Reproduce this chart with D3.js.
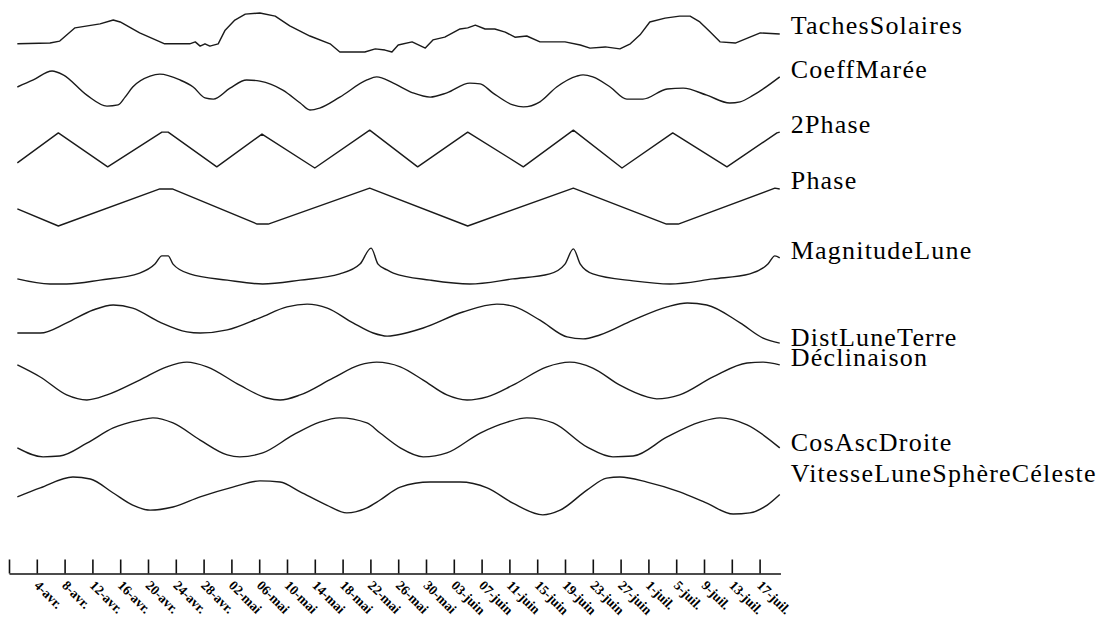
<!DOCTYPE html>
<html>
<head>
<meta charset="utf-8">
<script src="https://cdn.jsdelivr.net/npm/d3@7"></script>
<style>
  body { margin: 0; background: #fff; }
</style>
</head>
<body>
<div id="hook-chart"></div>
<script>
'use strict';

// series values are read off the picture, 0..100 within each band
// first number of each pair = days after 31 mars
var seriesNames = ['TachesSolaires', 'CoeffMarée', '2Phase', 'Phase', 'MagnitudeLune',
  'DistLuneTerre', 'Déclinaison', 'CosAscDroite', 'VitesseLuneSphèreCéleste'];

var tachesSolaires = [[1.2,21],[5.9,23],[7.3,28],[9.5,62],[13.1,72],[15,82],[16,77],[18.8,49],
  [22.4,21],[26,21],[26.8,26],[27.5,15],[28.2,21],[28.9,15],[30.1,21],[31.1,56],[32.5,82],
  [34,97],[36.1,100],[38.3,92],[40.4,67],[43.3,41],[46.2,21],[47.6,0],[51.2,0],[52.7,8],
  [54.1,5],[55.1,0],[56,18],[58,26],[59.9,10],[61,31],[62.7,38],[64.9,59],[66,62],[67.1,69],
  [68.5,59],[69.9,59],[71.4,51],[72.8,38],[74.5,41],[76.4,26],[80,26],[82.2,18],[83.6,10],
  [85.8,13],[87.9,8],[89.4,21],[90.8,44],[92.2,77],[94.4,87],[96.5,92],[98,92],[99.4,77],
  [100.9,51],[102.3,26],[104.5,23],[106.6,38],[108.1,49],[110.9,46]];

var coeffMaree = [[1.2,59],[3.5,77],[6.2,100],[7.8,90],[11.2,38],[14.1,10],[15.7,13],[16.7,33],
  [17.8,59],[20.3,87],[21.7,92],[24.6,77],[26.5,59],[28.2,31],[29.4,28],[31.8,56],[34.2,77],
  [36.1,74],[39.4,51],[41.9,18],[43.3,0],[44.7,5],[47.6,33],[51.5,77],[52.9,85],[55.3,69],
  [58.1,44],[60.6,33],[63,44],[66.3,69],[67.8,67],[69.6,44],[72.5,13],[74,8],[76.4,21],
  [78.8,59],[81.7,87],[82.6,90],[84,85],[86.5,59],[88.9,28],[91.2,28],[94.7,54],[97,56],
  [100.4,38],[103.7,18],[105.2,21],[107.1,38],[110.9,85]];

var deuxPhase = [[1.2,13],[7.1,90],[14.2,3],[22,92],[22.9,92],[29.9,3],[36.4,87],[44,0],
  [51.9,97],[58.8,3],[66,92],[74,3],[81.2,97],[88.2,0],[95.5,90],[103.3,3],[110.5,90],[110.9,92]];

var phase = [[1.2,44],[7.1,0],[21.7,95],[23.5,95],[35.7,5],[37.3,5],[51.9,97],[66,0],
  [81.2,97],[94.6,5],[96.3,5],[110.2,97],[110.9,95]];

var magnitudeLune = [[1.2,13],[5.9,0],[8.3,0],[13.1,10],[18.8,28],[21,51],[22,72],[22.9,72],
  [23.6,51],[26,26],[31.4,10],[36.5,0],[41.9,10],[47.6,26],[50.5,51],[52.1,92],[53.1,51],
  [54.4,36],[55.3,28],[60.6,10],[66.3,0],[72.5,13],[77.8,26],[80,51],[81.2,90],[82.2,51],
  [84,26],[89.8,8],[95.1,0],[101.3,13],[106.6,26],[109.2,51],[110.2,72],[110.9,67]];

var distLuneTerre = [[1.2,23],[4.5,23],[8.3,49],[12.1,82],[15,95],[17.8,87],[21.7,51],[25.6,26],
  [27.5,23],[31.4,31],[36.1,62],[40,90],[42.9,97],[45.8,87],[49.5,49],[52.4,23],[54.4,15],
  [55.8,18],[59.6,36],[65.3,77],[70.2,97],[72.5,92],[76.4,56],[80.3,13],[82.6,8],[85,18],
  [89.8,56],[94.7,90],[97.6,100],[100.4,95],[105.2,49],[108.5,10],[110.9,-3]];

var declinaison = [[1.2,90],[4.5,59],[8.3,13],[11.2,0],[14.1,13],[18.8,51],[22.7,85],[25.6,97],
  [28.5,85],[33.2,38],[37.1,5],[39,0],[41.9,13],[46.6,56],[50.5,90],[52.9,97],[56.3,85],
  [59.6,51],[63,13],[65.9,0],[68.8,8],[72.5,38],[77.4,85],[80.7,97],[84,82],[87.9,38],
  [91.8,8],[93.2,3],[96.5,13],[101.3,59],[106.2,95],[108.5,97],[110.9,90]];

var cosAscDroite = [[1.2,26],[4.9,3],[7.3,5],[11.2,38],[15,77],[18.8,97],[20.7,103],[23.6,90],
  [27.5,46],[31.4,8],[33.2,3],[36.5,13],[40.9,59],[44.7,92],[47.6,103],[51.5,90],[53.4,64],
  [56.3,26],[59.6,3],[63,13],[67.8,64],[71.7,92],[74.5,103],[78.3,90],[83.2,28],[86.9,3],
  [89.8,5],[94.7,54],[99.4,92],[102.3,103],[106.2,85],[110.9,26]];

var vitesseLune = [[1.2,49],[4.5,72],[9.2,100],[11.7,95],[15,59],[17.8,28],[20.3,15],[23.6,23],
  [27.5,49],[32.2,74],[36.1,90],[39,87],[41.9,62],[45.7,28],[48.6,8],[51.5,21],[53.4,41],
  [56.3,74],[60.6,87],[64.9,87],[68.8,72],[72.5,33],[76.8,3],[79.3,15],[83.2,67],[86,97],
  [87.9,100],[91.8,87],[96.5,62],[100.4,33],[104.2,5],[106.6,8],[109.1,28],[110.9,55]];

var seriesValues = [tachesSolaires, coeffMaree, deuxPhase, phase, magnitudeLune,
  distLuneTerre, declinaison, cosAscDroite, vitesseLune];

// tick every 4 days from 31 mars, the first tick has no label
var tickDays = d3.range(0, 109, 4);
var tickLabels = ['4-avr.', '8-avr.', '12-avr.', '16-avr.', '20-avr.', '24-avr.', '28-avr.',
  '02-mai', '06-mai', '10-mai', '14-mai', '18-mai', '22-mai', '26-mai', '30-mai',
  '03-juin', '07-juin', '11-juin', '15-juin', '19-juin', '23-juin', '27-juin',
  '1-juil.', '5-juil.', '9-juil.', '13-juil.', '17-juil.'];

var options = {
  width: 1108,
  height: 619,
  left: 9,
  dayWidth: 6.95,
  lastDay: 111,
  bandTop: 13,
  bandStep: 58,
  bandHeight: 39,
  axisY: 573.5,
  tickSize: 14
};

var curves = [d3.curveLinear, d3.curveMonotoneX, d3.curveLinear, d3.curveLinear, d3.curveMonotoneX,
  d3.curveMonotoneX, d3.curveMonotoneX, d3.curveMonotoneX, d3.curveMonotoneX];
var labelNudge = [-1, 0, 0, -1, 0, 2, 0, 2, -14];

var origin = new Date(2001, 2, 31);
function dayDate(d) {
  return new Date(origin.getTime() + d * 864e5);
}

function update(options) {
  var svg = d3.select('#hook-chart')
    .append('svg')
    .attr('width', options.width)
    .attr('height', options.height)
    .style('background', '#fff');

  var x = d3.scaleTime()
    .domain([origin, dayDate(options.lastDay)])
    .range([options.left, options.left + options.dayWidth * options.lastDay]);

  seriesValues.forEach(function(values, i) {
    var top = options.bandTop + options.bandStep * i;
    var y = d3.scaleLinear()
      .domain([0, 100])
      .range([top + options.bandHeight, top]);

    var line = d3.line()
      .x(function(d) { return x(dayDate(d[0])); })
      .y(function(d) { return y(d[1]); })
      .curve(curves[i]);

    svg.append('path')
      .datum(values)
      .attr('d', line)
      .style('fill', 'none')
      .style('stroke', '#1a1a1a')
      .style('stroke-width', 1.4)
      .style('stroke-linejoin', 'round');

    var last = values[values.length - 1];
    svg.append('text')
      .attr('x', x(dayDate(last[0])) + 11)
      .attr('y', y(last[1]) + 1 + labelNudge[i])
      .style('font-family', '"Liberation Serif", "DejaVu Serif", serif')
      .style('font-size', '26px')
      .style('letter-spacing', '1.2px')
      .style('fill', '#000')
      .text(seriesNames[i]);
  });

  var axis = d3.axisBottom(x)
    .tickValues(tickDays.map(dayDate))
    .tickSizeInner(-options.tickSize)
    .tickSizeOuter(0)
    .tickFormat(function(d, i) { return i === 0 ? '' : tickLabels[i - 1]; });

  var g = svg.append('g')
    .attr('transform', 'translate(0,' + options.axisY + ')')
    .call(axis);

  g.select('.domain').style('stroke', '#111').style('stroke-width', 1.6);
  g.selectAll('.tick line').style('stroke', '#111').style('stroke-width', 1.6);
  g.selectAll('.tick text')
    .attr('x', 0)
    .attr('y', 0)
    .attr('dy', '0.71em')
    .attr('text-anchor', 'start')
    .attr('transform', 'translate(3,6) rotate(45)')
    .style('font-family', '"Liberation Serif", "DejaVu Serif", serif')
    .style('font-size', '13.5px')
    .style('font-weight', 'bold')
    .style('fill', '#000');
}

update(options);
</script>
</body>
</html>
